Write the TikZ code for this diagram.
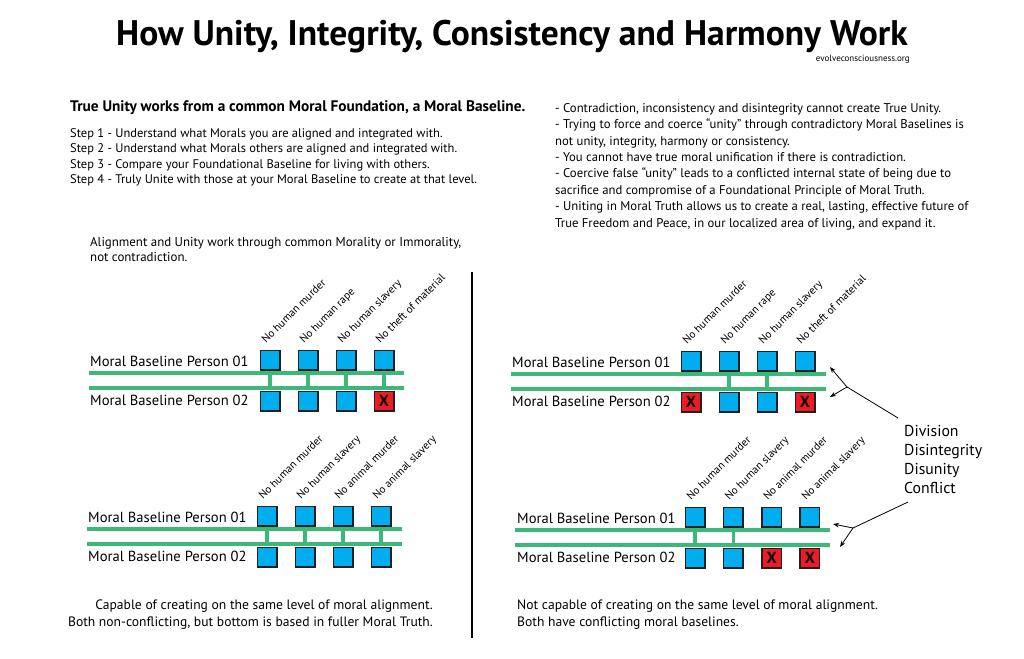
\documentclass[tikz,border=0pt]{standalone}
\usepackage{fontspec}
\setmainfont{PT Sans}
\usetikzlibrary{arrows.meta}
\definecolor{mgreen}{RGB}{60,184,120}
\definecolor{mblue}{RGB}{0,174,239}
\definecolor{mred}{RGB}{237,28,36}
\definecolor{mdark}{RGB}{35,31,32}
\tikzset{
  goodbox/.style={draw=mdark, fill=mblue, line width=1.5pt, minimum size=19.5pt, inner sep=0pt},
  badbox/.style={goodbox, fill=mred, font=\fontsize{16}{16}\selectfont\bfseries, text=black},
  gline/.style={draw=mgreen, line width=3.8pt},
  gconn/.style={draw=mgreen, line width=3.2pt},
  plabel/.style={font=\fontsize{14.6}{16}\selectfont, inner sep=0pt, anchor=west},
  tag/.style={font=\fontsize{11}{12}\selectfont, inner sep=0pt, rotate=45, anchor=base west},
  body/.style={font=\fontsize{12.5}{15.6}\selectfont, align=left, inner sep=0pt, anchor=north west},
  ptr/.style={draw=black, line width=0.8pt, -{Stealth[length=6pt,width=4.5pt]}},
  plain/.style={draw=black, line width=0.8pt},
}
% #1 prefix, #2 label x, #3 first box x, #4 box spacing, #5 line1 y,
% #6 line west x, #7 line east x, #8 row2 states (1=bad), #9 connector indices
\newcommand{\moralpanel}[9]{%
  \coordinate (#1wa) at (#6,#5);
  \coordinate (#1ea) at (#7,#5);
  \coordinate (#1wb) at (#6,#5+15.3);
  \coordinate (#1eb) at (#7,#5+15.3);
  \draw[gline] (#1wa) -- (#1ea);
  \draw[gline] (#1wb) -- (#1eb);
  \node[plabel] (#1pa) at (#2,#5-12) {Moral Baseline Person 01};
  \node[plabel] (#1pb) at (#2,#5+27) {Moral Baseline Person 02};
  \foreach \k in {1,...,4} {
    \node[goodbox] (#1a\k) at ({#3+(\k-1)*#4},#5-12.8) {};
  }
  \foreach \s [count=\k] in {#8} {
    \ifnum\s=1
      \node[badbox] (#1b\k) at ({#3+(\k-1)*#4},#5+28) {X};
    \else
      \node[goodbox] (#1b\k) at ({#3+(\k-1)*#4},#5+28) {};
    \fi
  }
  \foreach \k in {#9} {
    \draw[gconn] (#1a\k |- #1wa) -- (#1a\k |- #1wb);
  }
  \foreach \t [count=\k] in \paneltags {
    \node[tag] (#1t\k) at ({#3+(\k-1)*#4-4},#5-29) {\t};
  }
}
\begin{document}
\begin{tikzpicture}[x=1pt,y=-1pt]
\fill[white] (0,0) rectangle (1024,658);
\useasboundingbox (0,0) rectangle (1024,658);

\node[font=\fontsize{35.5}{38}\selectfont\bfseries] (title) at (512,37) {How Unity, Integrity, Consistency and Harmony Work};
\node[font=\fontsize{9}{10}\selectfont, anchor=east, inner sep=0pt] (site) at (910,59) {evolveconsciousness.org};

\node[font=\fontsize{15.3}{17}\selectfont\bfseries, anchor=west, inner sep=0pt] (head) at (70,108) {True Unity works from a common Moral Foundation, a Moral Baseline.};
\node[body] (steps) at (70,128) {Step 1 - Understand what Morals you are aligned and integrated with.\\
Step 2 - Understand what Morals others are aligned and integrated with.\\
Step 3 - Compare your Foundational Baseline for living with others.\\
Step 4 - Truly Unite with those at your Moral Baseline to create at that level.};

\node[body, font=\fontsize{12.7}{16.4}\selectfont] (notes) at (555,103) {- Contradiction, inconsistency and disintegrity cannot create True Unity.\\
- Trying to force and coerce ``unity'' through contradictory Moral Baselines is\\
not unity, integrity, harmony or consistency.\\
- You cannot have true moral unification if there is contradiction.\\
- Coercive false ``unity'' leads to a conflicted internal state of being due to\\
sacrifice and compromise of a Foundational Principle of Moral Truth.\\
- Uniting in Moral Truth allows us to create a real, lasting, effective future of\\
True Freedom and Peace, in our localized area of living, and expand it.};

\node[body, font=\fontsize{12.9}{15.5}\selectfont] (align) at (90,237) {Alignment and Unity work through common Morality or Immorality,\\
not contradiction.};

\coordinate (dtop) at (472,272);
\coordinate (dbot) at (472,638);
\draw[black, line width=1.8pt] (dtop) -- (dbot);

\def\paneltags{No human murder,No human rape,No human slavery,No theft of material}
\moralpanel{TL}{90}{270}{38}{373}{89}{404}{0,0,0,1}{1,2,3,4}
\moralpanel{TR}{512}{691}{38}{374}{511}{826}{1,0,0,1}{2,3}
\def\paneltags{No human murder,No human slavery,No animal murder,No animal slavery}
\moralpanel{BL}{88}{267}{38}{529}{87}{402}{0,0,0,0}{1,2,3,4}
\moralpanel{BR}{517}{695}{38.3}{530}{515}{830}{0,0,1,1}{1,2}

\node[font=\fontsize{15.8}{19.2}\selectfont, align=left, anchor=north west, inner sep=0pt] (div) at (904,425) {Division\\Disintegrity\\Disunity\\Conflict};

\coordinate (ja) at (847,387);
\coordinate (jaup) at (830,367);
\coordinate (jadn) at (830,397);
\coordinate (jaend) at (898,418);
\draw[plain] (jaend) -- (ja);
\draw[ptr] (ja) -- (jaup);
\draw[ptr] (ja) -- (jadn);

\coordinate (jb) at (853,528);
\coordinate (jbup) at (833,524);
\coordinate (jbdn) at (840,547);
\coordinate (jbend) at (908,502);
\draw[plain] (jbend) -- (jb);
\draw[ptr] (jb) -- (jbup);
\draw[ptr] (jb) -- (jbdn);

\node[font=\fontsize{13.6}{17}\selectfont, align=right, anchor=north east, inner sep=0pt] (capl) at (433,600) {Capable of creating on the same level of moral alignment.\\
Both non-conflicting, but bottom is based in fuller Moral Truth.};
\node[font=\fontsize{13.6}{17}\selectfont, align=left, anchor=north west, inner sep=0pt] (capr) at (517,600) {Not capable of creating on the same level of moral alignment.\\
Both have conflicting moral baselines.};
\end{tikzpicture}
\end{document}
